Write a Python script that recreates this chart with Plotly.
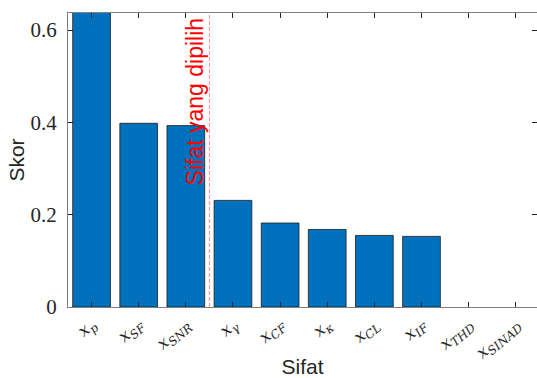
import plotly.graph_objects as go

categories = ["x_p", "x_SF", "x_SNR", "x_gamma", "x_CF", "x_kappa", "x_CL", "x_IF", "x_THD", "x_SINAD"]
tick_labels = [
    "<i>x</i><sub><i>p</i></sub>",
    "<i>x</i><sub><i>SF</i></sub>",
    "<i>x</i><sub><i>SNR</i></sub>",
    "<i>x</i><sub><i>γ</i></sub>",
    "<i>x</i><sub><i>CF</i></sub>",
    "<i>x</i><sub><i>κ</i></sub>",
    "<i>x</i><sub><i>CL</i></sub>",
    "<i>x</i><sub><i>IF</i></sub>",
    "<i>x</i><sub><i>THD</i></sub>",
    "<i>x</i><sub><i>SINAD</i></sub>",
]
scores = [0.72, 0.398, 0.393, 0.231, 0.182, 0.168, 0.155, 0.153, 0.0, 0.0]
y_ticks = [0, 0.2, 0.4, 0.6]
y_tick_text = ["0", "0.2", "0.4", "0.6"]
cutoff_position = 2.5
cutoff_label = "Sifat yang dipilih"

x_idx = list(range(len(categories)))
edge_widths = [0.8 if v > 0 else 0 for v in scores]

fig = go.Figure()
fig.add_trace(go.Bar(
    x=x_idx, y=scores, width=0.8,
    marker=dict(color="#0072BD", line=dict(color="#1a1a1a", width=edge_widths)),
    hoverinfo="skip",
))

fig.add_shape(type="line", xref="x", yref="paper", x0=cutoff_position, x1=cutoff_position,
              y0=0, y1=1, line=dict(color="#FF8C8C", width=1, dash="4px,2px"))
fig.add_annotation(x=cutoff_position, xref="x", y=1, yref="paper", yshift=-2, xshift=-14,
                   text=cutoff_label, textangle=-90, showarrow=False,
                   xanchor="center", yanchor="top",
                   font=dict(family="Liberation Sans", size=23, color="#FF0000"))

axis_color = "#808080"
fig.update_xaxes(
    range=[-0.5, 9.45], tickmode="array", tickvals=x_idx, ticktext=tick_labels,
    tickangle=-40, ticks="inside", ticklen=5, tickcolor="#262626",
    showline=True, linecolor=axis_color, linewidth=1, mirror="ticks",
    showgrid=False, zeroline=False, automargin=False,
    tickfont=dict(family="DejaVu Serif", size=17, color="#262626"),
    title=dict(text="Sifat", font=dict(family="Liberation Sans", size=21, color="#262626"), standoff=0),
)
fig.update_yaxes(
    range=[0, 0.637], tickmode="array", tickvals=y_ticks, ticktext=y_tick_text,
    ticks="inside", ticklen=5, tickcolor="#262626", ticklabelstandoff=6,
    showline=True, linecolor=axis_color, linewidth=1, mirror="ticks",
    showgrid=False, zeroline=False,
    tickfont=dict(family="Liberation Serif", size=21, color="#262626"),
    title=dict(text="Skor", font=dict(family="Liberation Sans", size=21, color="#262626"), standoff=0),
)
fig.update_layout(
    width=537, height=378,
    margin=dict(l=68, r=0, t=13, b=71),
    plot_bgcolor="white", paper_bgcolor="white",
    showlegend=False, bargap=0.2,
)
fig.write_html("out.html")
